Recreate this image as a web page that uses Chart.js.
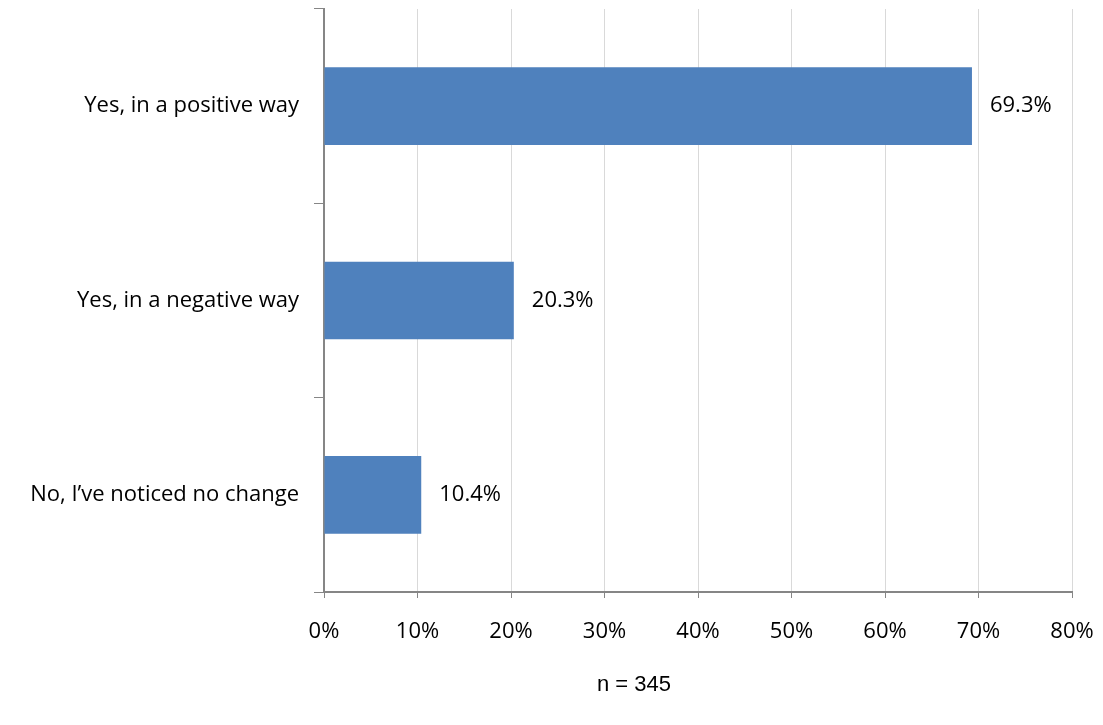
<!DOCTYPE html>
<html>
<head>
<meta charset="utf-8">
<script src="https://cdn.jsdelivr.net/npm/chart.js@4.4.1/dist/chart.umd.min.js"></script>
<style>
  html, body { margin: 0; padding: 0; background: #fff; }
  #wrap { width: 1103px; height: 725px; }
</style>
</head>
<body>
<div id="wrap"><canvas id="myChart"></canvas></div>
<script>
// answers and share of respondents (%)
let categorias = ["Yes, in a positive way", "Yes, in a negative way", "No, I\u2019ve noticed no change"];
let valores = [69.3, 20.3, 10.4];
let ticksX = [0, 10, 20, 30, 40, 50, 60, 70, 80];
let nota = "n = 345";

let fuente = "'Open Sans', Lato, sans-serif";

///// etiquetas de valor al final de cada barra + nota n /////
const etiquetas = {
  id: "etiquetas",
  afterDatasetsDraw(chart) {
    const ctx = chart.ctx;
    const meta = chart.getDatasetMeta(0);
    ctx.save();
    ctx.font = "22px " + fuente;
    ctx.fillStyle = "#000";
    ctx.textAlign = "left";
    ctx.textBaseline = "middle";
    meta.data.forEach((bar, i) => {
      ctx.fillText(valores[i].toFixed(1) + "%", bar.x + 18, bar.y);
    });
    ctx.font = "22px 'Liberation Sans', Arial, sans-serif";
    ctx.textAlign = "center";
    ctx.fillText(nota, 634, 685);
    ctx.restore();
  },
};

function sinPadding(scale) {
  scale.paddingLeft = 0;
  scale.paddingRight = 0;
  scale.paddingTop = 0;
  scale.paddingBottom = 0;
}

const ctx = document.getElementById("myChart");
new Chart(ctx, {
  type: "bar",
  data: {
    labels: categorias,
    datasets: [
      {
        data: valores,
        backgroundColor: "#4F81BD",
        categoryPercentage: 1,
        barPercentage: 0.4,
      },
    ],
  },
  options: {
    indexAxis: "y",
    responsive: true,
    maintainAspectRatio: false,
    animation: false,
    layout: { padding: { left: 0, top: 9, right: 31, bottom: 0 } },
    plugins: { legend: { display: false }, tooltip: { enabled: false } },
    scales: {
      x: {
        min: 0,
        max: 80,
        afterBuildTicks(scale) {
          scale.ticks = ticksX.map((v) => ({ value: v }));
        },
        afterFit(scale) {
          scale.height = 133;
          sinPadding(scale);
        },
        grid: { color: "#d9d9d9", tickColor: "#868686", tickLength: 6, lineWidth: 1 },
        border: { color: "#868686", width: 2 },
        ticks: {
          padding: 21,
          color: "#000",
          font: { size: 22, family: fuente },
          callback: (v) => v + "%",
        },
      },
      y: {
        afterFit(scale) {
          scale.width = 324;
          sinPadding(scale);
        },
        grid: { drawOnChartArea: false, color: "#868686", tickLength: 10, offset: true },
        border: { color: "#868686", width: 2 },
        ticks: {
          padding: 15,
          color: "#000",
          font: { size: 22, family: fuente },
        },
      },
    },
  },
  plugins: [etiquetas],
});
</script>
</body>
</html>
